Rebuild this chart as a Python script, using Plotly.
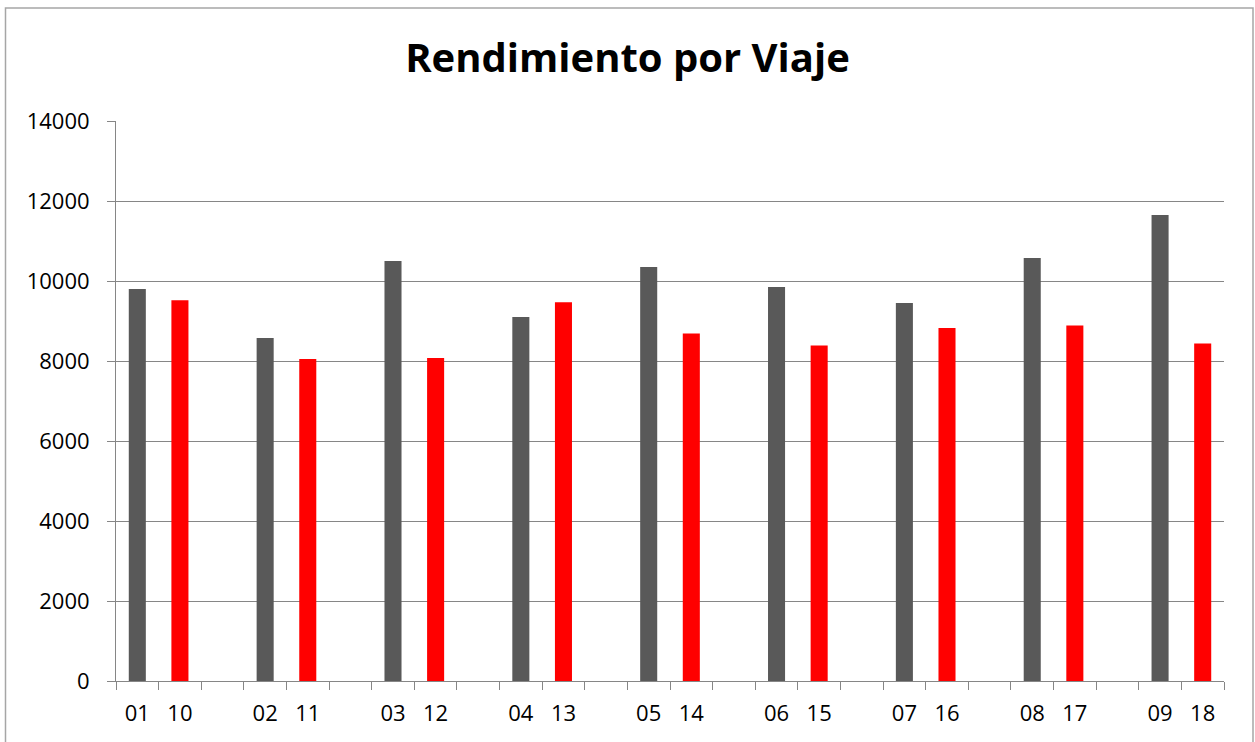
import plotly.graph_objects as go

# Data
labels_a = ["01", "02", "03", "04", "05", "06", "07", "08", "09"]
values_a = [9800, 8575, 10500, 9100, 10350, 9850, 9450, 10575, 11650]
labels_b = ["10", "11", "12", "13", "14", "15", "16", "17", "18"]
values_b = [9520, 8050, 8075, 9470, 8685, 8390, 8825, 8890, 8440]
title_text = "Rendimiento por Viaje"
y_ticks = [0, 2000, 4000, 6000, 8000, 10000, 12000, 14000]

# category order: a, b, blank gap (no gap after last group)
categories = []
for i, (a, b) in enumerate(zip(labels_a, labels_b)):
    categories += [a, b]
    if i < len(labels_a) - 1:
        categories.append(" " * (i + 1))

W, H = 1255, 742
L, R, T, B = 116, 31, 121, 61
pw, ph = W - L - R, H - T - B

FONT = "'Open Sans', Lato, sans-serif"

fig = go.Figure()
fig.add_trace(go.Bar(x=labels_a, y=values_a, width=0.4, marker=dict(color="#595959", line=dict(width=0)), showlegend=False))
fig.add_trace(go.Bar(x=labels_b, y=values_b, width=0.4, marker=dict(color="#FF0000", line=dict(width=0)), showlegend=False))

def px_to_paper_x(px):
    return (px - L) / pw

def px_to_paper_y(py):
    return (H - B - py) / ph

fig.update_layout(
    width=W, height=H,
    margin=dict(l=L, r=R, t=T, b=B, pad=0, autoexpand=False),
    paper_bgcolor="white", plot_bgcolor="white",
    barmode="overlay",
    title=dict(text=title_text, x=0.5, xanchor="center", y=1 - 58 / H, yanchor="middle",
               yref="container", font=dict(family=FONT, size=40, color="black", weight="bold")),
    xaxis=dict(type="category", categoryorder="array", categoryarray=categories,
               tickson="boundaries", ticks="outside", ticklen=8, tickcolor="#868686", tickwidth=1,
               showline=True, linecolor="#868686", linewidth=1, showgrid=False, tickangle=0,
               automargin=False, ticklabelstandoff=13,
               tickfont=dict(family=FONT, size=22, color="black"), range=[-0.5, len(categories) - 0.5],
               fixedrange=True),
    yaxis=dict(range=[0, 14000], tickvals=y_ticks, ticktext=[str(v) for v in y_ticks],
               ticks="outside", ticklen=8, tickcolor="#868686",
               showline=True, linecolor="#868686", linewidth=1, automargin=False,
               showgrid=True, gridcolor="#868686", gridwidth=1, zeroline=False,
               tickfont=dict(family=FONT, size=22, color="black"), ticklabelstandoff=13),
    shapes=[dict(type="rect", xref="paper", yref="paper",
                 x0=px_to_paper_x(5.5), x1=px_to_paper_x(1253), y0=px_to_paper_y(760), y1=px_to_paper_y(8),
                 line=dict(color="#a6a6a6", width=1.5), fillcolor="rgba(0,0,0,0)", layer="below")],
)

fig.write_html("out.html", config={"displayModeBar": False},
               post_script="document.body.style.margin='0';document.body.style.overflow='hidden';")
